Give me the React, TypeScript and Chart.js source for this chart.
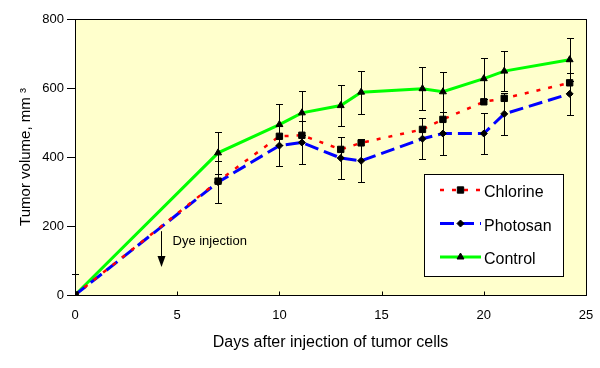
import React, { useEffect, useRef } from 'react';
import { Chart, registerables } from 'chart.js';

Chart.register(...registerables);

// ---- data ----
const days = [0, 7, 10, 11.1, 13, 14, 17, 18, 20, 21, 24.2];
const chlorine = [0, 330, 460, 463, 422, 441, 480, 509, 560, 570, 615];
const photosan = [0, 327, 433, 442, 397, 389, 453, 468, 468, 525, 583];
const control = [0, 412, 494, 528, 549, 588, 598, 589, 627, 649, 682];
const photosanErr = [0, 60, 58, 62, 62, 62, 59, 62, 59, 61, 61];
const controlErr = [61, 60, 60, 64, 60, 62, 63, 58, 60, 59, 63];
const seriesNames = ['Chlorine', 'Photosan', 'Control'];
const xTicks = [0, 5, 10, 15, 20, 25];
const yTicks = [0, 200, 400, 600, 800];
const xTitle = 'Days after injection of tumor cells';
const yTitle = 'Tumor volume, mm \u00B3';
const dyeLabel = 'Dye injection';
const dyeDay = 4.2;
const dyeArrowFrom = 185;
const dyeArrowTo = 81;
const dyeLabelValue = 145;

const FONT = "'Liberation Sans', Arial, sans-serif";
const PLOT_BG = '#FFFFCC';

function drawMarker(ctx: CanvasRenderingContext2D, style: string, x: number, y: number, r: number) {
  ctx.beginPath();
  if (style === 'rect') {
    const s = r * Math.SQRT1_2;
    ctx.rect(x - s, y - s, 2 * s, 2 * s);
  } else if (style === 'rectRot') {
    ctx.moveTo(x - r, y);
    ctx.lineTo(x, y - r);
    ctx.lineTo(x + r, y);
    ctx.lineTo(x, y + r);
    ctx.closePath();
  } else {
    const w = r * Math.sin(Math.PI / 3);
    ctx.moveTo(x, y - r);
    ctx.lineTo(x + w, y + r / 2);
    ctx.lineTo(x - w, y + r / 2);
    ctx.closePath();
  }
  ctx.fillStyle = '#000';
  ctx.fill();
  ctx.strokeStyle = '#000';
  ctx.lineWidth = 1;
  ctx.stroke();
}

const customPlugin = {
  id: 'customDecor',
  beforeDraw(chart: any) {
    const { ctx, chartArea } = chart;
    ctx.save();
    ctx.fillStyle = '#fff';
    ctx.fillRect(0, 0, chart.width, chart.height);
    ctx.fillStyle = PLOT_BG;
    ctx.fillRect(chartArea.left, chartArea.top, chartArea.right - chartArea.left, chartArea.bottom - chartArea.top);
    ctx.restore();
  },
  beforeDatasetsDraw(chart: any) {
    const { ctx, chartArea } = chart;
    const xs = chart.scales.x;
    const ys = chart.scales.y;
    ctx.save();
    // frame
    ctx.strokeStyle = '#000';
    ctx.lineWidth = 1;
    const l = Math.round(chartArea.left) + 0.5;
    const r = Math.round(chartArea.right) + 0.5;
    const t = Math.round(chartArea.top) + 0.5;
    const b = Math.round(chartArea.bottom) + 0.5;
    ctx.strokeRect(l, t, r - l, b - t);
    // inward x ticks
    ctx.beginPath();
    xTicks.forEach((v) => {
      const px = Math.round(xs.getPixelForValue(v)) + 0.5;
      ctx.moveTo(px, b);
      ctx.lineTo(px, b - 4);
    });
    ctx.stroke();

    // error bars
    ctx.save();
    ctx.beginPath();
    ctx.rect(chartArea.left - 10, chartArea.top, chartArea.right - chartArea.left + 20, chartArea.bottom - chartArea.top);
    ctx.clip();
    chart.data.datasets.forEach((ds: any) => {
      if (!ds.errorBars) return;
      ctx.beginPath();
      ds.data.forEach((p: any, i: number) => {
        const e = ds.errorBars[i];
        if (!e) return;
        const px = Math.round(xs.getPixelForValue(p.x)) + 0.5;
        const yt = Math.round(ys.getPixelForValue(p.y + e)) + 0.5;
        const yb = Math.round(ys.getPixelForValue(p.y - e)) + 0.5;
        ctx.moveTo(px, yt);
        ctx.lineTo(px, yb);
        ctx.moveTo(px - 3.5, yt);
        ctx.lineTo(px + 3.5, yt);
        ctx.moveTo(px - 3.5, yb);
        ctx.lineTo(px + 3.5, yb);
      });
      ctx.strokeStyle = '#000';
      ctx.lineWidth = 1;
      ctx.stroke();
    });
    ctx.restore();

    // dye injection annotation
    const ax = Math.round(xs.getPixelForValue(dyeDay)) + 0.5;
    const ay1 = ys.getPixelForValue(dyeArrowFrom);
    const ay2 = ys.getPixelForValue(dyeArrowTo);
    ctx.beginPath();
    ctx.moveTo(ax, ay1);
    ctx.lineTo(ax, ay2 - 8);
    ctx.strokeStyle = '#000';
    ctx.lineWidth = 1;
    ctx.stroke();
    ctx.beginPath();
    ctx.moveTo(ax - 4, ay2 - 11);
    ctx.lineTo(ax + 4, ay2 - 11);
    ctx.lineTo(ax, ay2);
    ctx.closePath();
    ctx.fillStyle = '#000';
    ctx.fill();
    ctx.font = `13px ${FONT}`;
    ctx.textAlign = 'left';
    ctx.textBaseline = 'alphabetic';
    ctx.fillText(dyeLabel, ax + 11, ys.getPixelForValue(dyeLabelValue));
    ctx.restore();
  },
  afterDraw(chart: any) {
    const { ctx } = chart;
    ctx.save();
    const bx = 424.5, by = 174.5, bw = 139, bh = 102;
    ctx.fillStyle = '#fff';
    ctx.fillRect(bx, by, bw, bh);
    ctx.strokeStyle = '#000';
    ctx.lineWidth = 1;
    ctx.strokeRect(bx, by, bw, bh);
    const rows = [190, 223.5, 257];
    chart.data.datasets.forEach((ds: any, i: number) => {
      const y = rows[i];
      ctx.save();
      ctx.beginPath();
      ctx.strokeStyle = ds.borderColor;
      ctx.lineWidth = ds.borderWidth;
      ctx.setLineDash(ds.borderDash || []);
      ctx.moveTo(440, y);
      ctx.lineTo(481, y);
      ctx.stroke();
      ctx.restore();
      drawMarker(ctx, ds.pointStyle, 460.5, y, ds.pointRadius);
      ctx.fillStyle = '#000';
      ctx.font = `16px ${FONT}`;
      ctx.textAlign = 'left';
      ctx.textBaseline = 'alphabetic';
      ctx.fillText(ds.label, 484, y + 7);
    });
    ctx.restore();
  },
};

export default function App() {
  const ref = useRef<HTMLCanvasElement | null>(null);
  useEffect(() => {
    if (!ref.current) return;
    const mk = (arr: number[]) => arr.map((v, i) => ({ x: days[i], y: v }));
    const chart = new Chart(ref.current, {
      type: 'line',
      data: {
        datasets: [
          {
            label: seriesNames[0],
            data: mk(chlorine),
            borderColor: '#FF0000',
            borderWidth: 2.5,
            borderDash: [4, 8],
            pointStyle: 'rect',
            pointRadius: 4.5,
            pointBackgroundColor: '#000',
            pointBorderColor: '#000',
            pointBorderWidth: 1,
            tension: 0,
            fill: false,
          } as any,
          {
            label: seriesNames[1],
            data: mk(photosan),
            borderColor: '#0000FF',
            borderWidth: 3,
            borderDash: [14, 6],
            pointStyle: 'rectRot',
            pointRadius: 3.5,
            pointBackgroundColor: '#000',
            pointBorderColor: '#000',
            pointBorderWidth: 1,
            tension: 0,
            fill: false,
            errorBars: photosanErr,
          } as any,
          {
            label: seriesNames[2],
            data: mk(control),
            borderColor: '#00FF00',
            borderWidth: 3,
            pointStyle: 'triangle',
            pointRadius: 4,
            pointBackgroundColor: '#000',
            pointBorderColor: '#000',
            pointBorderWidth: 1,
            tension: 0,
            fill: false,
            errorBars: controlErr,
          } as any,
        ],
      },
      options: {
        responsive: false,
        animation: false,
        devicePixelRatio: 1,
        layout: { padding: { left: 0, top: 19, right: 14, bottom: 0 } },
        plugins: { legend: { display: false }, tooltip: { enabled: false } },
        scales: {
          x: {
            type: 'linear',
            min: 0,
            max: 25,
            afterBuildTicks: (s: any) => { s.ticks = xTicks.map((v) => ({ value: v })); },
            afterFit: (s: any) => { s.height = 73; },
            ticks: { padding: 5, color: '#000', font: { size: 13, family: FONT }, maxRotation: 0 },
            grid: { display: false },
            border: { display: false },
            title: {
              display: true,
              text: xTitle,
              color: '#000',
              font: { size: 16, family: FONT },
              padding: { top: 0, bottom: 16 },
            },
          },
          y: {
            type: 'linear',
            min: 0,
            max: 800,
            afterBuildTicks: (s: any) => { s.ticks = yTicks.map((v) => ({ value: v })); },
            afterFit: (s: any) => { s.width = 75; },
            ticks: { padding: 3, color: '#000', font: { size: 13, family: FONT } },
            grid: { display: true, drawOnChartArea: false, drawTicks: true, tickLength: 8, color: '#000' },
            border: { display: false },
            title: {
              display: true,
              text: yTitle,
              color: '#000',
              font: { size: 15, family: FONT },
              padding: { top: 17, bottom: 0 },
            },
          },
        },
      } as any,
      plugins: [customPlugin],
    });
    return () => chart.destroy();
  }, []);
  return (
    <div style={{ position: 'absolute', left: 0, top: 0, width: 600, height: 368, background: '#fff' }}>
      <canvas ref={ref} width={600} height={368} style={{ display: 'block' }} />
    </div>
  );
}
